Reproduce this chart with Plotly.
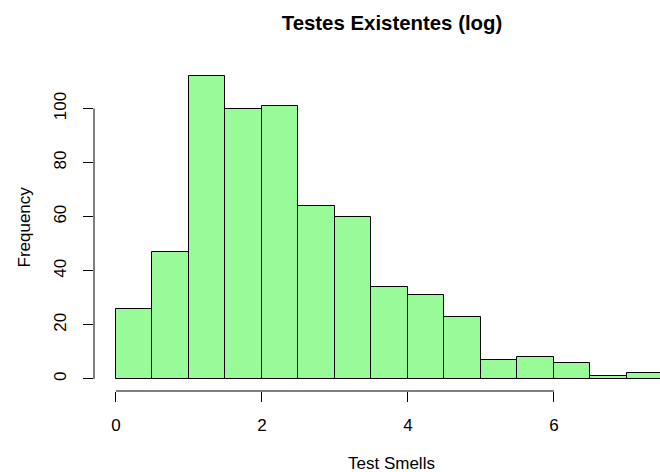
import plotly.graph_objects as go

# Histogram of log-transformed test smell counts (bin width 0.5)
bin_starts = [0.0, 0.5, 1.0, 1.5, 2.0, 2.5, 3.0, 3.5, 4.0, 4.5, 5.0, 5.5, 6.0, 6.5, 7.0]
counts = [26, 47, 112, 100, 101, 64, 60, 34, 31, 23, 7, 8, 6, 1, 2]
bin_width = 0.5
x_ticks = [0, 2, 4, 6]
y_ticks = [0, 20, 40, 60, 80, 100]

centers = [b + bin_width / 2 for b in bin_starts]
font = "Liberation Sans, Arial, Helvetica, sans-serif"

fig = go.Figure(
    go.Bar(
        x=centers,
        y=counts,
        width=bin_width,
        marker=dict(color="#98FB98", line=dict(color="black", width=1)),
        hoverinfo="x+y",
    )
)

ymax = max(counts)
fig.update_layout(
    width=660,
    height=472,
    margin=dict(l=94, r=0, t=64, b=81),
    paper_bgcolor="white",
    plot_bgcolor="white",
    showlegend=False,
    bargap=0,
    font=dict(family=font, size=17, color="black"),
    title=dict(
        text="<b>Testes Existentes (log)</b>",
        x=392 / 660, xref="container", xanchor="center",
        y=1 - 23 / 472, yref="container", yanchor="middle",
        font=dict(size=20.4, family=font, color="black"),
    ),
    xaxis=dict(
        range=[-0.3, -0.3 + 566 / 73.0],
        tickvals=x_ticks,
        ticks="outside", ticklen=10, tickwidth=1, tickcolor="black",
        showline=False, showgrid=False, zeroline=False,
        ticklabelstandoff=9,
        tickfont=dict(size=17),
        fixedrange=True,
    ),
    yaxis=dict(
        range=[-0.04 * ymax, 1.04 * ymax],
        tickvals=y_ticks,
        ticks="outside", ticklen=10, tickwidth=1, tickcolor="black",
        showline=False, showgrid=False, zeroline=False,
        tickangle=-90,
        ticklabelstandoff=10,
        tickfont=dict(size=17),
        fixedrange=True,
    ),
)

# R-style axis lines spanning only the first to last tick
fig.add_shape(type="line", xref="x", yref="paper",
              x0=x_ticks[0], x1=x_ticks[-1], y0=0, y1=0,
              line=dict(color="black", width=1))
fig.add_shape(type="line", xref="paper", yref="y",
              x0=0, x1=0, y0=y_ticks[0], y1=y_ticks[-1],
              line=dict(color="black", width=1))

# Axis titles
fig.add_annotation(text="Test Smells", xref="paper", yref="paper",
                   x=(391 - 94) / 566, y=-(463 - 391) / 327,
                   xanchor="center", yanchor="middle", showarrow=False,
                   font=dict(size=17, family=font))
fig.add_annotation(text="Frequency", xref="paper", yref="paper",
                   x=-(94 - 24) / 566, y=0.5, textangle=-90,
                   xanchor="center", yanchor="middle", showarrow=False,
                   font=dict(size=17, family=font))

fig.write_html("out.html")
